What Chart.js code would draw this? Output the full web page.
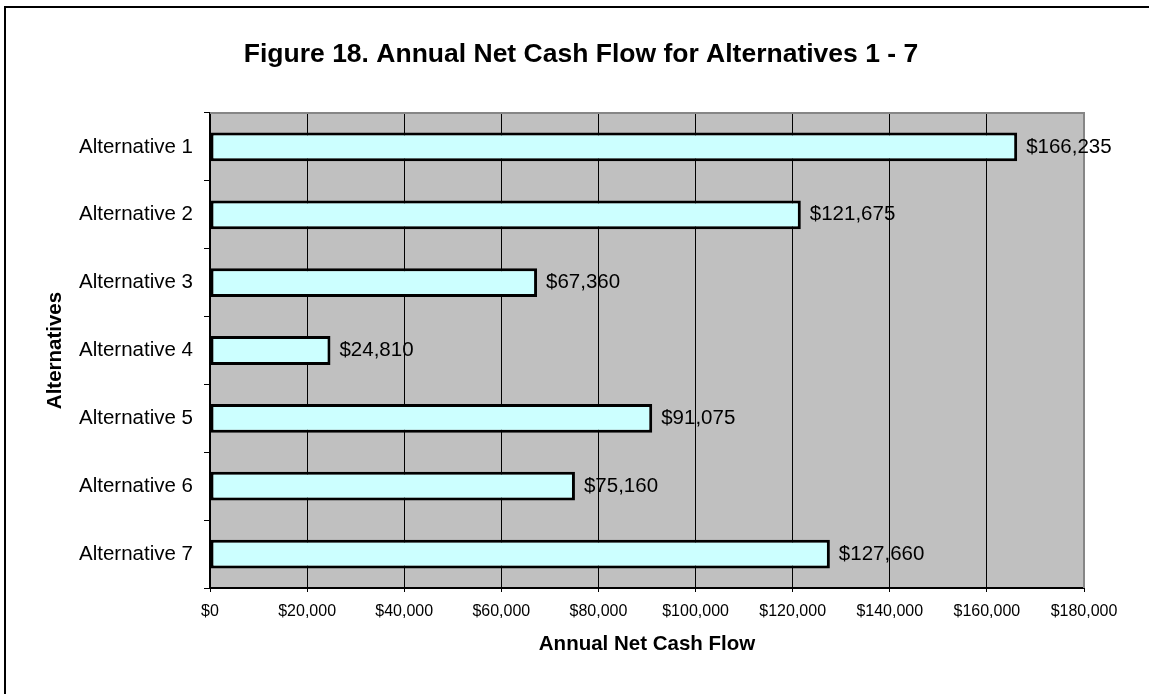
<!DOCTYPE html>
<html lang="en">
<head>
  <meta charset="UTF-8" />
  <title>Annual Net Cash Flow for Alternatives 1 - 7</title>
  <script src="https://cdn.jsdelivr.net/npm/chart.js"></script>
  <style>
    html, body { margin: 0; padding: 0; background: #fff; overflow: hidden; }
    #wrap { position: relative; width: 1149px; height: 694px; }
    #frame {
      position: absolute; left: 4px; top: 6px; width: 1300px; height: 800px;
      border-left: 2px solid #000; border-top: 2px solid #000;
    }
    #chartBox { position: absolute; left: 0; top: 0; width: 1149px; height: 694px; }
  </style>
</head>
<body>
  <div id="wrap">
    <div id="frame"></div>
    <div id="chartBox"><canvas id="cashChart"></canvas></div>
  </div>

  <script>
    // data
    const chartTitle = 'Figure 18. Annual Net Cash Flow for Alternatives 1 - 7';
    const categories = ['Alternative 1', 'Alternative 2', 'Alternative 3', 'Alternative 4',
                        'Alternative 5', 'Alternative 6', 'Alternative 7'];
    const cashFlow = [166235, 121675, 67360, 24810, 91075, 75160, 127660];
    const xMin = 0, xMax = 180000, xStep = 20000;

    const FONT = "'Liberation Sans', Arial, sans-serif";

    const money = v => '$' + Number(v).toLocaleString('en-US');

    // gray plot area, gray top/right edge
    const plotArea = {
      id: 'plotArea',
      beforeDraw(chart) {
        const { ctx, chartArea: a } = chart;
        ctx.save();
        ctx.fillStyle = '#c0c0c0';
        ctx.fillRect(a.left, a.top, a.right - a.left, a.bottom - a.top);
        ctx.restore();
      },
      beforeDatasetsDraw(chart) {
        const { ctx, chartArea: a } = chart;
        ctx.save();
        ctx.strokeStyle = '#868686';
        ctx.lineWidth = 2;
        ctx.beginPath();
        ctx.moveTo(a.left, a.top);
        ctx.lineTo(a.right, a.top);
        ctx.lineTo(a.right, a.bottom);
        ctx.stroke();
        ctx.restore();
      }
    };

    // value labels to the right of each bar + figure title
    const barLabels = {
      id: 'barLabels',
      afterDatasetsDraw(chart) {
        const ctx = chart.ctx;
        const meta = chart.getDatasetMeta(0);
        ctx.save();
        ctx.font = '20.5px ' + FONT;
        ctx.fillStyle = '#000';
        ctx.textAlign = 'left';
        ctx.textBaseline = 'middle';
        meta.data.forEach((bar, i) => {
          ctx.fillText(money(cashFlow[i]), bar.x + 9, bar.y);
        });
        ctx.font = 'bold 26.5px ' + FONT;
        ctx.textAlign = 'center';
        ctx.textBaseline = 'alphabetic';
        ctx.fillText(chartTitle, 581, 62);
        ctx.restore();
      }
    };

    const ctx = document.getElementById('cashChart').getContext('2d');
    new Chart(ctx, {
      type: 'bar',
      data: {
        labels: categories,
        datasets: [{
          data: cashFlow,
          backgroundColor: '#ccffff',
          borderColor: '#000',
          borderWidth: 3,
          borderSkipped: false,
          categoryPercentage: 0.8,
          barPercentage: 0.53
        }]
      },
      options: {
        indexAxis: 'y',
        responsive: true,
        maintainAspectRatio: false,
        animation: false,
        layout: { padding: { left: 10, right: 65, top: 113, bottom: 0 } },
        plugins: {
          legend: { display: false },
          tooltip: { enabled: false },
          title: { display: false }
        },
        scales: {
          x: {
            min: xMin,
            max: xMax,
            ticks: {
              stepSize: xStep,
              color: '#000',
              font: { family: FONT, size: 16 },
              padding: 10,
              maxRotation: 0,
              callback: v => money(v)
            },
            grid: { color: '#000', lineWidth: 1, tickLength: 4, tickColor: '#000' },
            border: { color: '#000', width: 2 },
            title: {
              display: true,
              text: 'Annual Net Cash Flow',
              color: '#000',
              font: { family: FONT, size: 20.5, weight: 'bold' },
              padding: { top: 0, bottom: 37 }
            },
            afterFit(scale) { scale.height = 106; }
          },
          y: {
            ticks: {
              color: '#000',
              font: { family: FONT, size: 20.5 },
              padding: 11
            },
            grid: { drawOnChartArea: false, tickLength: 6, color: '#000', lineWidth: 1 },
            border: { color: '#000', width: 2 },
            title: {
              display: true,
              text: 'Alternatives',
              color: '#000',
              font: { family: FONT, size: 20.5, weight: 'bold' },
              padding: { top: 33, bottom: 0 }
            },
            afterFit(scale) { scale.width = 200; }
          }
        }
      },
      plugins: [plotArea, barLabels]
    });
  </script>
</body>
</html>
